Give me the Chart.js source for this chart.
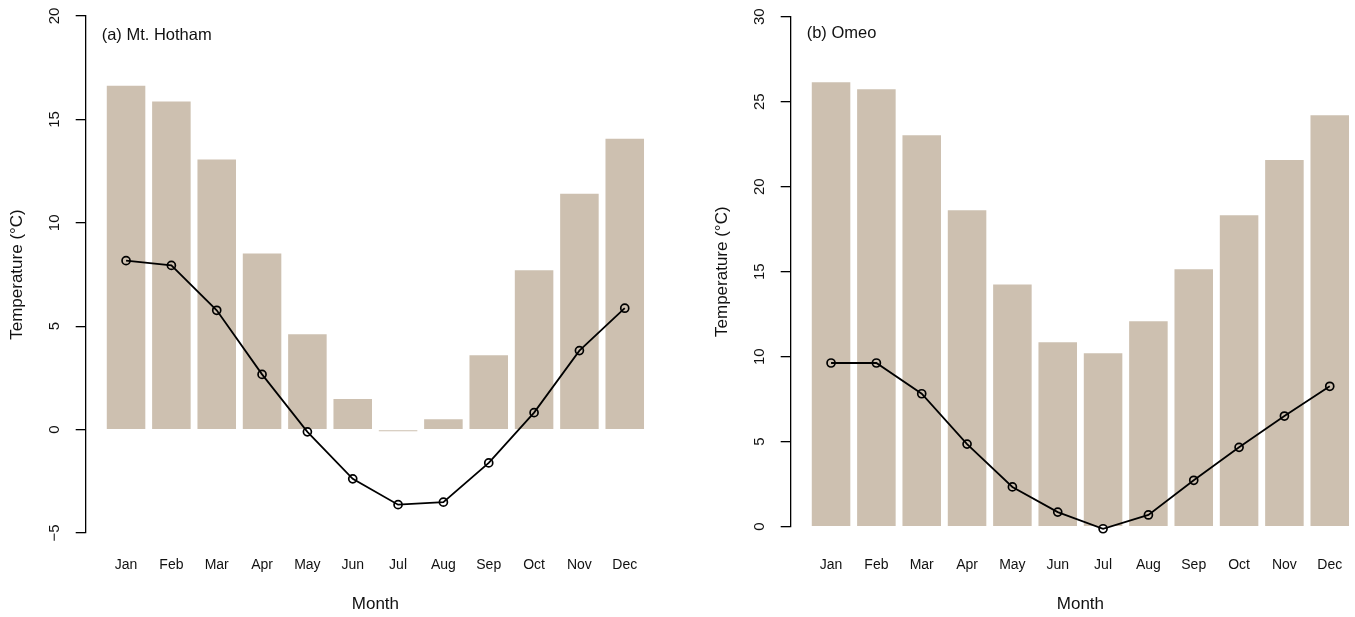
<!DOCTYPE html>
<html lang="en">
<head>
    <meta charset="UTF-8">
    <title>Monthly temperature: Mt. Hotham and Omeo</title>
    <script src="https://cdn.jsdelivr.net/npm/chart.js"></script>
    <style>
body {
    margin: 0;
    width: 1355px;
    height: 617px;
    overflow: hidden;
    position: relative;
    background: #fff;
}
canvas {
    position: absolute;
    top: 0;
}
#hotham { left: 0; }
#omeo { left: 705px; }
    </style>
</head>
<body>
    <canvas id="hotham" width="677" height="617"></canvas>
    <canvas id="omeo" width="677" height="617"></canvas>

    <script>
        // month labels and temperatures (°C)
        const months = ['Jan', 'Feb', 'Mar', 'Apr', 'May', 'Jun', 'Jul', 'Aug', 'Sep', 'Oct', 'Nov', 'Dec'];
        const hothamMax = [16.63, 15.86, 13.06, 8.51, 4.61, 1.48, -0.08, 0.50, 3.60, 7.70, 11.41, 14.07];
        const hothamMin = [8.17, 7.94, 5.77, 2.67, -0.11, -2.38, -3.63, -3.51, -1.61, 0.82, 3.82, 5.87];
        const omeoMax = [26.14, 25.73, 23.02, 18.61, 14.24, 10.85, 10.20, 12.08, 15.14, 18.32, 21.57, 24.20];
        const omeoMin = [9.63, 9.63, 7.82, 4.86, 2.34, 0.86, -0.12, 0.69, 2.73, 4.67, 6.51, 8.26];

        const FONT = '"Liberation Sans", Arial, sans-serif';
        const barColour = '#CDC0B0';

        // rotated y tick labels (R style) and the panel caption
        const panelDecor = {
            id: 'panelDecor',
            afterDraw(chart, args, opts) {
                const ctx = chart.ctx;
                const y = chart.scales.y;
                ctx.save();
                ctx.fillStyle = '#111';
                ctx.font = '15px ' + FONT;
                ctx.textAlign = 'center';
                ctx.textBaseline = 'middle';
                y.ticks.forEach(t => {
                    const txt = t.value < 0 ? '\u2212' + Math.abs(t.value) : String(t.value);
                    ctx.save();
                    ctx.translate(y.right - 30.5, y.getPixelForValue(t.value));
                    ctx.rotate(-Math.PI / 2);
                    ctx.fillText(txt, 0, 0);
                    ctx.restore();
                });
                ctx.font = '16.5px ' + FONT;
                ctx.textAlign = 'left';
                ctx.fillText(opts.label, chart.chartArea.left + 16, opts.labelY);
                ctx.restore();
            }
        };

        function makePanel(id, label, labelY, maxVals, minVals, yMin, yMax, top, bottom, tickPad) {
            const pts = vals => vals.map((v, i) => ({ x: i + 1, y: v }));
            return new Chart(document.getElementById(id), {
                type: 'bar',
                data: {
                    datasets: [{
                        type: 'line',
                        data: pts(minVals),
                        borderColor: '#000',
                        borderWidth: 1.8,
                        pointRadius: 4,
                        pointBorderWidth: 1.7,
                        pointBorderColor: '#000',
                        pointBackgroundColor: 'rgba(0,0,0,0)',
                        tension: 0,
                        clip: false,
                        order: 0
                    }, {
                        type: 'bar',
                        data: pts(maxVals),
                        backgroundColor: barColour,
                        borderWidth: 0,
                        categoryPercentage: 1,
                        barPercentage: 0.85,
                        order: 1
                    }]
                },
                options: {
                    responsive: false,
                    animation: false,
                    devicePixelRatio: 1,
                    layout: { padding: { top: top, left: 0, right: 11.9, bottom: 0 } },
                    plugins: {
                        legend: { display: false },
                        tooltip: { enabled: false },
                        panelDecor: { label: label, labelY: labelY }
                    },
                    scales: {
                        x: {
                            type: 'linear',
                            min: 0.11,
                            max: 12.89,
                            offset: false,
                            grid: { display: false, drawTicks: false },
                            border: { display: false },
                            afterBuildTicks: s => { s.ticks = months.map((m, i) => ({ value: i + 1 })); },
                            afterFit: s => { s.height = 617 - bottom; },
                            ticks: {
                                autoSkip: false,
                                maxRotation: 0,
                                padding: tickPad,
                                color: '#111',
                                font: { family: FONT, size: 14 },
                                callback: v => months[v - 1]
                            },
                            title: {
                                display: true,
                                text: 'Month',
                                color: '#111',
                                font: { family: FONT, size: 17 },
                                padding: { top: 0, bottom: 2.8 }
                            }
                        },
                        y: {
                            min: yMin,
                            max: yMax,
                            afterFit: s => { s.width = 85.7; },
                            ticks: { display: false, stepSize: 5 },
                            grid: {
                                drawOnChartArea: false,
                                drawTicks: true,
                                tickLength: 10,
                                color: '#000',
                                lineWidth: 1.3
                            },
                            border: { display: true, color: '#000', width: 1.3 },
                            title: {
                                display: true,
                                text: 'Temperature (°C)',
                                color: '#111',
                                font: { family: FONT, size: 17 },
                                padding: { top: 7.3, bottom: 0 }
                            }
                        }
                    }
                },
                plugins: [panelDecor]
            });
        }

        makePanel('hotham', '(a) Mt. Hotham', 35.5, hothamMax, hothamMin, -5, 20, 16, 533, 23.6);
        makePanel('omeo', '(b) Omeo', 33.3, omeoMax, omeoMin, 0, 30, 16.7, 526.7, 29.9);
    </script>
</body>
</html>
